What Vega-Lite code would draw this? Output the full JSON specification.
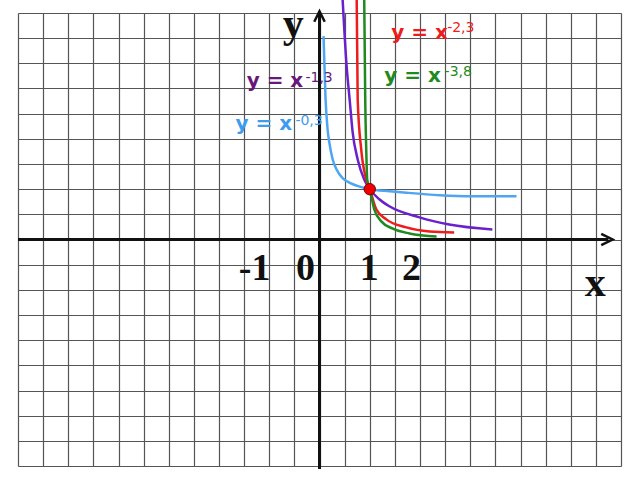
{
  "$schema": "https://vega.github.io/schema/vega-lite/v6.json",
  "autosize": "none",
  "width": 603,
  "height": 453,
  "padding": {"left": 18, "top": 13, "right": 19, "bottom": 14},
  "background": "white",
  "config": {"view": {"stroke": null}},
  "datasets": {
    "curves": [
      {"series": "-0,3", "x": 0.08, "y": 4.04},
      {"series": "-0,3", "x": 0.12, "y": 2.8},
      {"series": "-0,3", "x": 0.16, "y": 2.2},
      {"series": "-0,3", "x": 0.2, "y": 1.9},
      {"series": "-0,3", "x": 0.26, "y": 1.6},
      {"series": "-0,3", "x": 0.34, "y": 1.39},
      {"series": "-0,3", "x": 0.46, "y": 1.22},
      {"series": "-0,3", "x": 0.56, "y": 1.15},
      {"series": "-0,3", "x": 0.8, "y": 1.05},
      {"series": "-0,3", "x": 1.0, "y": 1.0},
      {"series": "-0,3", "x": 1.4, "y": 0.96},
      {"series": "-0,3", "x": 1.73, "y": 0.93},
      {"series": "-0,3", "x": 2.39, "y": 0.88},
      {"series": "-0,3", "x": 3.04, "y": 0.86},
      {"series": "-0,3", "x": 3.92, "y": 0.86},
      {"series": "-1,3", "x": 0.46, "y": 4.77},
      {"series": "-1,3", "x": 0.54, "y": 3.44},
      {"series": "-1,3", "x": 0.6, "y": 2.78},
      {"series": "-1,3", "x": 0.66, "y": 2.13},
      {"series": "-1,3", "x": 0.76, "y": 1.59},
      {"series": "-1,3", "x": 0.89, "y": 1.19},
      {"series": "-1,3", "x": 1.0, "y": 1.0},
      {"series": "-1,3", "x": 1.19, "y": 0.8},
      {"series": "-1,3", "x": 1.39, "y": 0.66},
      {"series": "-1,3", "x": 1.99, "y": 0.44},
      {"series": "-1,3", "x": 2.58, "y": 0.3},
      {"series": "-1,3", "x": 3.44, "y": 0.2},
      {"series": "-2,3", "x": 0.74, "y": 4.77},
      {"series": "-2,3", "x": 0.76, "y": 2.78},
      {"series": "-2,3", "x": 0.83, "y": 1.79},
      {"series": "-2,3", "x": 0.93, "y": 1.19},
      {"series": "-2,3", "x": 1.0, "y": 1.0},
      {"series": "-2,3", "x": 1.13, "y": 0.6},
      {"series": "-2,3", "x": 1.33, "y": 0.4},
      {"series": "-2,3", "x": 1.73, "y": 0.24},
      {"series": "-2,3", "x": 2.19, "y": 0.16},
      {"series": "-2,3", "x": 2.68, "y": 0.14},
      {"series": "-3,8", "x": 0.89, "y": 4.77},
      {"series": "-3,8", "x": 0.91, "y": 2.78},
      {"series": "-3,8", "x": 0.93, "y": 1.79},
      {"series": "-3,8", "x": 0.95, "y": 1.19},
      {"series": "-3,8", "x": 1.0, "y": 1.0},
      {"series": "-3,8", "x": 1.09, "y": 0.6},
      {"series": "-3,8", "x": 1.23, "y": 0.36},
      {"series": "-3,8", "x": 1.45, "y": 0.22},
      {"series": "-3,8", "x": 1.79, "y": 0.12},
      {"series": "-3,8", "x": 2.33, "y": 0.06}
    ],
    "labels": [
      {"series": "-2,3", "part": "main", "text": "y = x", "x": 1.43, "y": 3.98},
      {"series": "-2,3", "part": "sup", "text": "-2,3", "x": 2.54, "y": 4.12},
      {"series": "-3,8", "part": "main", "text": "y = x", "x": 1.29, "y": 3.12},
      {"series": "-3,8", "part": "sup", "text": "-3,8", "x": 2.49, "y": 3.24},
      {"series": "-1,3", "part": "main", "text": "y = x", "x": -1.45, "y": 3.02},
      {"series": "-1,3", "part": "sup", "text": "-1,3", "x": -0.28, "y": 3.12},
      {"series": "-0,3", "part": "main", "text": "y = x", "x": -1.67, "y": 2.17},
      {"series": "-0,3", "part": "sup", "text": "-0,3", "x": -0.48, "y": 2.27}
    ],
    "ticks": [
      {"text": "-1", "x": -1.29, "y": -0.8},
      {"text": "0", "x": -0.28, "y": -0.8},
      {"text": "1", "x": 0.99, "y": -0.8},
      {"text": "2", "x": 1.83, "y": -0.8}
    ],
    "names": [
      {"text": "y", "x": -0.52, "y": 4.02},
      {"text": "x", "x": 5.49, "y": -1.13}
    ],
    "axes": [
      {"x": 0, "x2": 0, "y": -4.56, "y2": 4.53},
      {"x": -6, "x2": 5.75, "y": 0, "y2": 0}
    ]
  },
  "encoding": {
    "x": {
      "field": "x",
      "type": "quantitative",
      "scale": {"domain": [-6, 6], "nice": false, "zero": false},
      "axis": {
        "values": [-6, -5.5, -5, -4.5, -4, -3.5, -3, -2.5, -2, -1.5, -1, -0.5, 0, 0.5, 1, 1.5, 2, 2.5, 3, 3.5, 4, 4.5, 5, 5.5, 6],
        "labels": false, "ticks": false, "domain": false, "title": null,
        "grid": true, "gridColor": "#555", "gridWidth": 1.2, "gridOpacity": 1
      }
    },
    "y": {
      "field": "y",
      "type": "quantitative",
      "scale": {"domain": [-4.5, 4.5], "nice": false, "zero": false},
      "axis": {
        "values": [-4.5, -4, -3.5, -3, -2.5, -2, -1.5, -1, -0.5, 0, 0.5, 1, 1.5, 2, 2.5, 3, 3.5, 4, 4.5],
        "labels": false, "ticks": false, "domain": false, "title": null,
        "grid": true, "gridColor": "#555", "gridWidth": 1.2, "gridOpacity": 1
      }
    }
  },
  "layer": [
    {
      "data": {"name": "axes"},
      "mark": {"type": "rule", "color": "#111", "strokeWidth": 3},
      "encoding": {"x2": {"field": "x2"}, "y2": {"field": "y2"}}
    },
    {
      "data": {"values": [{"x": 0, "y": 4.43}]},
      "mark": {"type": "point", "shape": "M-1,1L0,-1L1,1", "filled": false, "size": 110, "stroke": "#111", "strokeWidth": 2.5, "opacity": 1}
    },
    {
      "data": {"values": [{"x": 5.72, "y": 0}]},
      "mark": {"type": "point", "shape": "M-1,-1L1,0L-1,1", "filled": false, "size": 130, "stroke": "#111", "strokeWidth": 2.5, "opacity": 1}
    },
    {
      "data": {"name": "curves"},
      "mark": {"type": "line", "interpolate": "monotone", "strokeWidth": 2.5},
      "encoding": {
        "color": {
          "field": "series", "type": "nominal", "legend": null,
          "scale": {"domain": ["-0,3", "-1,3", "-2,3", "-3,8"], "range": ["#4ea6f2", "#6a20cc", "#ee1c1c", "#1f8a1f"]}
        }
      }
    },
    {
      "data": {"values": [{"x": 1, "y": 1}]},
      "mark": {"type": "point", "filled": true, "size": 130, "color": "#ee0000", "stroke": "#7a0000", "strokeWidth": 1, "opacity": 1}
    },
    {
      "data": {"name": "labels"},
      "transform": [{"filter": "datum.part == 'main'"}],
      "mark": {"type": "text", "align": "left", "baseline": "alphabetic", "font": "DejaVu Sans", "fontWeight": "bold", "fontSize": 20},
      "encoding": {
        "text": {"field": "text"},
        "color": {
          "field": "series", "type": "nominal", "legend": null,
          "scale": {"domain": ["-0,3", "-1,3", "-2,3", "-3,8"], "range": ["#3e9cee", "#68187a", "#ee1c1c", "#1f8a1f"]}
        }
      }
    },
    {
      "data": {"name": "labels"},
      "transform": [{"filter": "datum.part == 'sup'"}],
      "mark": {"type": "text", "align": "left", "baseline": "alphabetic", "font": "DejaVu Sans", "fontSize": 14},
      "encoding": {
        "text": {"field": "text"},
        "color": {
          "field": "series", "type": "nominal", "legend": null,
          "scale": {"domain": ["-0,3", "-1,3", "-2,3", "-3,8"], "range": ["#3e9cee", "#68187a", "#ee1c1c", "#1f8a1f"]}
        }
      }
    },
    {
      "data": {"name": "ticks"},
      "mark": {"type": "text", "align": "center", "baseline": "alphabetic", "font": "Liberation Serif", "fontWeight": "bold", "fontSize": 38, "color": "#111"},
      "encoding": {"text": {"field": "text"}}
    },
    {
      "data": {"name": "names"},
      "mark": {"type": "text", "align": "center", "baseline": "alphabetic", "font": "Liberation Serif", "fontWeight": "bold", "fontSize": 42, "color": "#111"},
      "encoding": {"text": {"field": "text"}}
    }
  ],
  "resolve": {"scale": {"color": "independent"}}
}
